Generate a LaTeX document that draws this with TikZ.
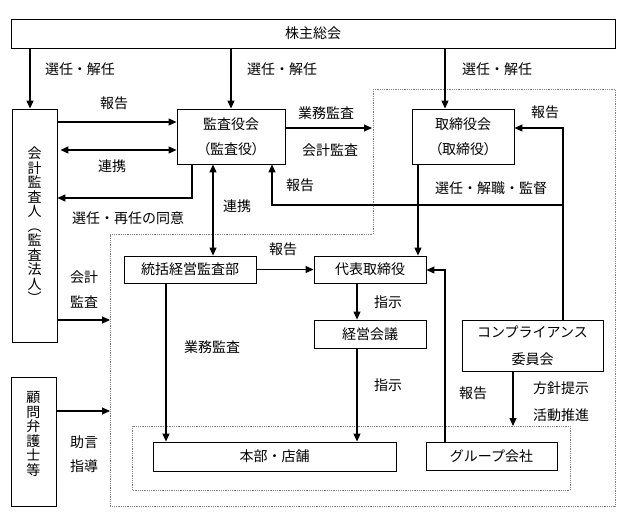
\documentclass[tikz,border=0pt]{standalone}
\usepackage{fontspec}
\setmainfont{Noto Sans CJK JP}
\usetikzlibrary{arrows.meta}
\newcommand\jpf{\fontsize{14}{16}\selectfont}
\newcommand\vjpf{\fontsize{14}{14.5}\selectfont}
\newcommand\jptwo{\fontsize{14}{25}\selectfont}
\newcommand\jpthree{\fontsize{14}{27}\selectfont}
\newcommand\paltf{\addfontfeatures{RawFeature=+palt}}
\begin{document}
\begin{tikzpicture}[x=1pt,y=-1pt,
  box/.style={draw, line width=0.9pt, inner sep=0pt, align=center, font=\jpf},
  arr/.style={line width=1.1pt, -{Triangle[length=8pt,width=7pt]}},
  darr/.style={line width=1.1pt, {Triangle[length=8pt,width=7pt]}-{Triangle[length=8pt,width=7pt]}},
  lab/.style={font=\jpf, inner sep=0pt},
  dotbox/.style={draw=gray, line width=0.8pt, densely dotted}]
\useasboundingbox[fill=white] (0,0) rectangle (632,515);

% dotted regions
\draw[dotbox] (373,89) -- (615,89) -- (615,506) -- (110,506) -- (110,234) -- (373,234) -- cycle;
\draw[dotbox] (132,426) rectangle (570,490);

% boxes
\node[box, minimum width=604pt, minimum height=29pt] (top) at (313,33.5) {株主総会};
\node[box, minimum width=45pt, minimum height=233pt, font=\vjpf] (kaikei) at (34.5,225.5)
  {会\\計\\監\\査\\人\\︵\\監\\査\\法\\人\\︶};
\node[box, minimum width=45pt, minimum height=129pt] (komon) at (33.5,441.5) {};
\node[align=center, inner sep=0pt, font=\vjpf] (komontxt) at (33.5,434) {顧\\問\\弁\\護\\士\\等};
\node[box, minimum width=108pt, minimum height=55pt, font=\jptwo] (kansa) at (231,136.5)
  {監査役会\\{\paltf （監査役）}};
\node[box, minimum width=102pt, minimum height=55pt, font=\jptwo] (tori) at (463,136.5)
  {取締役会\\{\paltf （取締役）}};
\node[box, minimum width=132pt, minimum height=27pt] (tokatsu) at (190,269.5) {統括経営監査部};
\node[box, minimum width=112pt, minimum height=27pt] (daihyo) at (370,269.5) {代表取締役};
\node[box, minimum width=112pt, minimum height=28pt] (keiei) at (370,334) {経営会議};
\node[box, minimum width=141pt, minimum height=51pt, font=\jpthree] (comp) at (532.5,345.5)
  {コンプライアンス\\委員会};
\node[box, minimum width=243pt, minimum height=29pt] (honbu) at (274.5,456.5) {本部・店舗};
\node[box, minimum width=131pt, minimum height=28pt] (group) at (491.5,456) {グループ会社};

% helper coordinates
\coordinate (p1) at (30,0);
\coordinate (p2) at (445,0);
\coordinate (y122) at (0,122);
\coordinate (y150) at (0,150);
\coordinate (p3) at (192,198);
\coordinate (p4) at (372,128);
\coordinate (p5) at (213,0);
\coordinate (p6) at (563,128);
\coordinate (p7) at (563,205);
\coordinate (p8) at (272,205);
\coordinate (p9) at (418,0);
\coordinate (p10) at (357,0);
\coordinate (p11) at (166,0);
\coordinate (p12) at (445,270);
\coordinate (p13) at (513,426);
\coordinate (p14) at (110,320);
\coordinate (p15) at (110,411);

% connectors
\draw[arr] (top.south -| p1) -- (kaikei.north -| p1);
\draw[arr] (top.south -| kansa.north) -- (kansa.north);
\draw[arr] (top.south -| p2) -- (tori.north -| p2);
\draw[arr] (kaikei.east |- y122) -- (kansa.west |- y122);
\draw[darr] ([xshift=3pt]kaikei.east |- y150) -- (kansa.west |- y150);
\draw[arr] (kansa.south -| p3) -- (p3) -- (kaikei.east |- p3);
\draw[arr] (kansa.east |- p4) -- (p4);
\draw[darr] (kansa.south -| p5) -- (tokatsu.north -| p5);
\draw[arr] (comp.north -| p6) -- (p6) -- (tori.east |- p6);
\draw[arr] (p7) -- (p8) -- (kansa.south -| p8);
\draw[arr] (tori.south -| p9) -- (daihyo.north -| p9);
\draw[arr] (tokatsu.east) -- (daihyo.west);
\draw[arr] (daihyo.south -| p10) -- (keiei.north -| p10);
\draw[arr] (keiei.south -| p10) -- (honbu.north -| p10);
\draw[arr] (tokatsu.south -| p11) -- (honbu.north -| p11);
\draw[arr] (group.north -| p12) -- (p12) -- (daihyo.east |- p12);
\draw[arr] (comp.south -| p13) -- (p13);
\draw[arr] (kaikei.east |- p14) -- (p14);
\draw[arr] (komon.east |- p15) -- (p15);

% labels
\node[lab] at (80,69) {選任・解任};
\node[lab] at (282,69) {選任・解任};
\node[lab] at (497,69) {選任・解任};
\node[lab] at (114,103) {報告};
\node[lab] at (112,166) {連携};
\node[lab] at (128,218) {選任・再任の同意};
\node[lab] at (326,113) {業務監査};
\node[lab] at (330,150) {会計監査};
\node[lab] at (300,185) {報告};
\node[lab] at (237,206) {連携};
\node[lab] at (545,112) {報告};
\node[lab] at (491,188) {選任・解職・監督};
\node[lab] at (283,249) {報告};
\node[lab] at (84,277) {会計};
\node[lab] at (84,302) {監査};
\node[lab] at (212,347) {業務監査};
\node[lab] at (388,302) {指示};
\node[lab] at (388,385) {指示};
\node[lab] at (473,393) {報告};
\node[lab] at (561,388) {方針提示};
\node[lab] at (561,415) {活動推進};
\node[lab] at (84,442) {助言};
\node[lab] at (84,466) {指導};
\end{tikzpicture}
\end{document}
